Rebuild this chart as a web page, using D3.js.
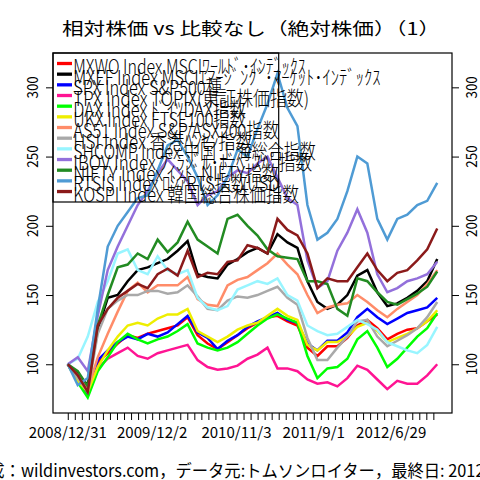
<!DOCTYPE html>
<html><head><meta charset="utf-8">
<script src="https://cdn.jsdelivr.net/npm/d3@7"></script>
<style>body{margin:0;background:#fff}svg{display:block}</style>
</head><body><svg id="c" width="480" height="480"></svg>
<script>
// ---- data ----
const seriesKeys = ["MXWO","MXEF","SPX","TPX","DAX","UKX","AS51","HSI","SHCOMP","IBOV","NIFTY","RTSI","KOSPI"];
const seriesLabels = [
  "MXWO Index MSCIﾜｰﾙﾄﾞ･ｲﾝﾃﾞｯｸｽ",
  "MXEF Index MSCIｴﾏｰｼﾞﾝｸﾞ･ﾏｰｹｯﾄ･ｲﾝﾃﾞｯｸｽ",
  "SPX Index S&P500種",
  "TPX Index TOPIX(東証株価指数)",
  "DAX Index ﾄﾞｲﾂDAX指数",
  "UKX Index FTSE100指数",
  "AS51 Index S&P/ASX200指数",
  "HSI Index 香港ﾊﾝｾﾝ指数",
  "SHCOMP Index 中国 上海総合指数",
  "IBOV Index ﾌﾞﾗｼﾞﾙ･ﾎﾞﾍﾞｽﾊﾟ指数",
  "NIFTY Index ｲﾝﾄﾞNIFTY指数",
  "RTSI$ Index ﾛｼｱRTS指数USD",
  "KOSPI Index 韓国総合株価指数"
];
const seriesColors = ["#FF0000","#000000","#0000FF","#FF1493","#00FF00","#EEEE00","#FF8C69","#A9A9A9","#98F5FF","#9370DB","#228B22","#4F9BD4","#8B1A1A"];

const MXWO  = [100,88,78,101,108,115,121,119,122,124,126,128,134,121,115,111,116,121,126,130,134,135,131,128,112,106,113,113,119,128,132,126,118,122,125,126,131,136];
const MXEF  = [100,93,85,125,148,150,160,168,170,173,176,182,189,165,163,162,172,176,181,184,180,194,188,184,160,145,140,143,150,164,168,152,142,144,148,153,160,176];
const SPX   = [100,88.6,79,103,110,116,120,118,122,120,123,129,135,123,119,111,117,121,127,131,134,137,132,130,115,110,117,117,123,134,140,134,129,133,137,139,141,148];
const TPX   = [100,92,82,97,104,108,112,106,104,108,110,112,114,103,98,96,97,99,104,107,112,97,97,95,89,86,87,84,90,99,96,89,82,88,86,86,92,100];
const DAX   = [100,87,76,95,105,116,122,118,115,118,120,124,129,115,112,110,112,116,122,128,133,136,133,130,106,90,97,98,104,118,124,112,98,104,112,120,126,137];
const UKX   = [100,88,80,98,110,120,128,130,128,133,136,136,140,124,120,116,120,125,128,130,135,140,135,132,114,110,116,116,120,127,130,124,116,119,122,126,131,139];
const AS51  = [100,92,82,105,122,138,153,159,152,157,157,157,163,147,143,142,157,161,163,168,173,180,172,165,150,137,141,143,144,150,145,139,134,140,145,150,158,168];
const HSI   = [100,90,80,122,140,146,150,150,153,153,151,152,157,149,140,139,146,149,148,150,153,156,148,143,119,103,103,112,120,131,132,120,113,117,121,126,134,145];
const SHCOMP= [100,104,120,145,160,180,183,168,165,178,168,165,168,148,141,139,142,154,157,160,158,162,150,146,128,124,121,122,127,132,129,125,116,113,110,108,114,127];
const IBOV  = [100,105,95,135,168,185,200,215,225,238,248,240,232,215,222,225,235,240,238,245,250,235,220,215,175,155,160,182,195,212,195,165,152,155,160,162,165,174];
const NIFTY = [100,95,84,128,150,170,172,180,176,190,181,188,203,190,185,180,205,208,200,193,183,178,177,176,160,160,158,140,135,162,160,152,145,143,147,151,156,167];
const RTSI  = [100,85,90,140,185,200,210,220,222,240,258,262,250,235,215,222,235,255,250,270,288,310,285,272,215,190,195,205,225,250,245,205,190,205,208,215,218,231];
const KOSPI = [100,92,80,128,140,148,153,158,155,165,169,164,182,163,166,165,174,175,186,184,180,205,197,193,180,155,162,160,160,170,180,168,160,166,168,175,183,198];

const totalDays = 1051;          // trading days spanned by the series
const tickEvery = 20;            // x tick every 20 trading days
const xLabelDays  = [0,240,480,700,920];
const xLabelTexts = ["2008/12/31","2009/12/2","2010/11/3","2011/9/1","2012/6/29"];
const yTicks = [100,150,200,250,300];
const titleText = "相対株価 vs 比較なし（絶対株価）（1）";
const captionText = "作成：wildinvestors.com，データ元:トムソンロイター，最終日: 2012/12/28";

const allSeries = [MXWO,MXEF,SPX,TPX,DAX,UKX,AS51,HSI,SHCOMP,IBOV,NIFTY,RTSI,KOSPI];

// ---- layout ----
const L=53, R=452, T=53, B=413;
const svg = d3.select("#c");
const ext = 0.04*totalDays;
const x = d3.scaleLinear().domain([-ext, totalDays+ext]).range([L,R]);
const y = d3.scaleLinear().domain([64.8, 324.8]).range([B,T]);
const FONT = "'Noto Sans CJK JP','DejaVu Sans',sans-serif";

// lines
svg.append("clipPath").attr("id","pc").append("rect")
  .attr("x",L).attr("y",T).attr("width",R-L).attr("height",B-T);
const g = svg.append("g").attr("clip-path","url(#pc)");
allSeries.forEach((s,i)=>{
  const n = s.length;
  const line = d3.line().x((d,j)=>x(j*totalDays/(n-1))).y(d=>y(d));
  g.append("path").datum(s).attr("d",line).attr("fill","none")
    .attr("stroke",seriesColors[i]).attr("stroke-width",2.5)
    .attr("stroke-linejoin","miter");
});

// box
svg.append("rect").attr("x",L).attr("y",T).attr("width",R-L).attr("height",B-T)
  .attr("fill","none").attr("stroke","#000").attr("stroke-width",1.2);

// x axis
const xTickVals = d3.range(0, totalDays, tickEvery);
const xAxis = d3.axisBottom(x).tickValues(xTickVals).tickFormat("").tickSize(7).tickSizeOuter(0);
const xa = svg.append("g").attr("transform",`translate(0,${B})`).call(xAxis);
xa.select(".domain").remove();
xa.selectAll("line").attr("stroke","#000");
xLabelDays.forEach((d,i)=>{
  const t = xLabelTexts[i];
  svg.append("text").attr("x",x(d)).attr("y",438).attr("text-anchor","middle")
    .attr("font-family",FONT).attr("font-size",15)
    .attr("textLength",t.length*7.8).attr("lengthAdjust","spacingAndGlyphs")
    .text(t);
});

// y axes
const yl = svg.append("g").attr("transform",`translate(${L},0)`)
  .call(d3.axisLeft(y).tickValues(yTicks).tickFormat("").tickSize(7).tickSizeOuter(0));
yl.select(".domain").remove();
const yr = svg.append("g").attr("transform",`translate(${R},0)`)
  .call(d3.axisRight(y).tickValues(yTicks).tickFormat("").tickSize(7).tickSizeOuter(0));
yr.select(".domain").remove();
[yl,yr].forEach(a=>a.selectAll("line").attr("stroke","#000"));
yTicks.forEach(v=>{
  [38.3, 476.5].forEach(bx=>{
    svg.append("text").attr("transform",`translate(${bx},${y(v)}) rotate(-90)`)
      .attr("text-anchor","middle").attr("font-family",FONT).attr("font-size",15)
      .attr("textLength",String(v).length*7.4).attr("lengthAdjust","spacingAndGlyphs")
      .text(v);
  });
});

// title
svg.append("text").attr("x",62).attr("y",35).attr("font-family",FONT).attr("font-size",17)
  .attr("textLength",378).attr("lengthAdjust","spacingAndGlyphs").text(titleText);

// caption
function units(str){let u=0;for(const ch of str){const c=ch.codePointAt(0);u+=(c<0x2E80||(c>=0xFF61&&c<=0xFF9F))?1:2;}return u;}
svg.append("text").attr("x",-28).attr("y",477).attr("font-family",FONT).attr("font-size",17)
  .attr("textLength",units(captionText)*8.02).attr("lengthAdjust","spacingAndGlyphs").text(captionText);

// legend
const lg = svg.append("g");
const rowStep = 10.67, row0 = 63.5;
lg.append("rect").attr("x",L).attr("y",T).attr("width",278.7-L).attr("height",202-T)
  .attr("fill","none").attr("stroke","#000").attr("stroke-width",1.2);
function lunits(str){let u=0;for(const ch of str){const c=ch.codePointAt(0);u+=(c<0x2E80||(c>=0xFF61&&c<=0xFF9F))?1:1.9;}return u;}
seriesLabels.forEach((lab,i)=>{
  const yy = row0 + i*rowStep;
  lg.append("line").attr("x1",57).attr("x2",72).attr("y1",yy).attr("y2",yy)
    .attr("stroke",seriesColors[i]).attr("stroke-width",3.3);
  lg.append("text").attr("x",73.3).attr("y",yy+10.5).attr("font-family",FONT).attr("font-size",20)
    .attr("font-weight",300)
    .attr("textLength",lunits(lab)*8.3).attr("lengthAdjust","spacingAndGlyphs").text(lab);
});
</script></body></html>
